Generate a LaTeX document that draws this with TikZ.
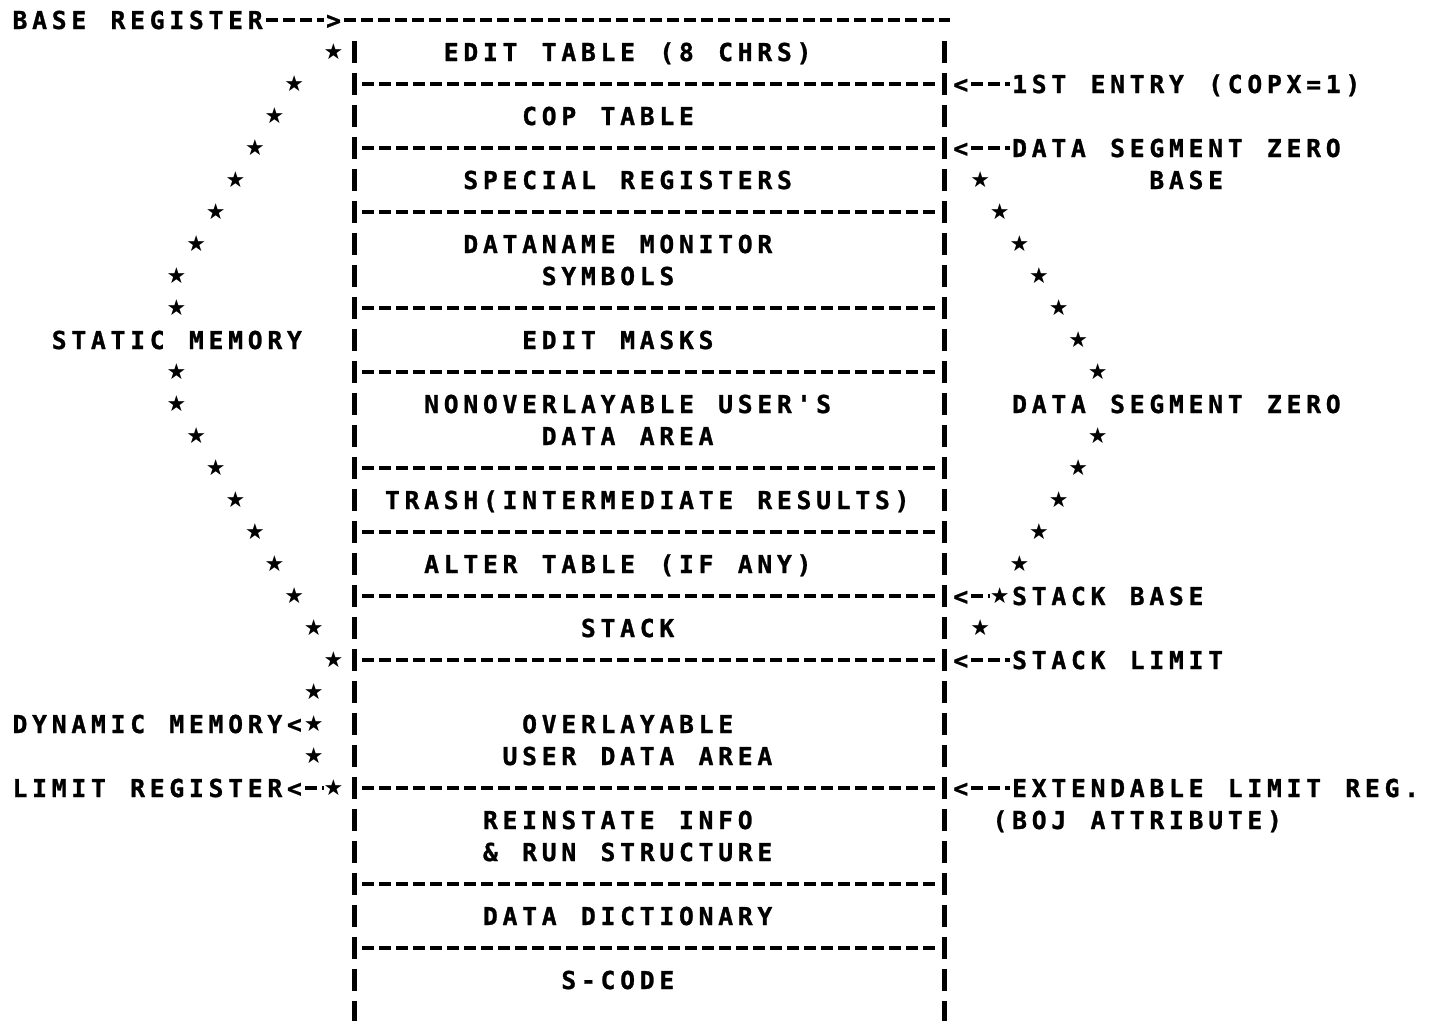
\documentclass[tikz,border=0pt]{standalone}
\usepackage{fontspec}
\newfontfamily\gridfont{DejaVu Sans Mono}[LetterSpace=19.2,FakeBold=1]
\newfontfamily\starfont{DejaVu Sans}
\tikzset{
  txt/.style={anchor=base west, inner sep=0pt, font=\gridfont\bfseries\fontsize{24.7}{26}\selectfont},
  st/.style={inner sep=0pt, font=\starfont\fontsize{22}{22}\selectfont},
  sep/.style={line width=4.6pt, dash pattern=on 12pt off 5pt},
  bar/.style={line width=5pt, dash pattern=on 22pt off 10pt},
}
\newcommand\putword[3]{\node[txt] (w-#1-#2) at ({10+(#2)*19.6+2.37},{20+32*(#1)+9}) {#3};}
\ExplSyntaxOn
\int_new:N \l_grid_col_int
\NewDocumentCommand\T{mmm}{
  \int_set:Nn \l_grid_col_int {#2}
  \seq_set_split:Nnn \l_tmpa_seq {~} {#3}
  \seq_map_inline:Nn \l_tmpa_seq {
    \tl_if_blank:nF {##1} {
      \use:x { \exp_not:N \putword {#1} {\int_use:N \l_grid_col_int} {\exp_not:n {##1}} }
    }
    \int_add:Nn \l_grid_col_int { \tl_count:n {##1} + 1 }
  }
}
\ExplSyntaxOff
\newcommand\St[2]{\node[st] (s-#1-#2) at ({10+(#2+0.5)*19.6},{20+32*(#1)}) {★};}
\newcommand\Dh[3]{\draw[sep] ({10+(#2)*19.6+1},{20+32*(#1)}) -- ({10+(#3)*19.6},{20+32*(#1)});}
\newcommand\Sep[1]{\draw[sep] (362,{20+32*(#1)}) -- (937,{20+32*(#1)});}
\begin{document}
\begin{tikzpicture}[x=1pt,y=-1pt]
\fill[white] (0,0) rectangle (1442,1020);
\useasboundingbox (0,0) rectangle (1442,1020);
% vertical bars
\draw[bar] (354,41) -- (354,1024);
\draw[bar] (944,41) -- (944,1024);
% row 0
\T{0}{0}{BASE REGISTER}
\Dh{0}{13}{16}
\T{0}{16}{>}
\draw[sep] (344,20) -- (950,20);
% separators
\Sep{2}\Sep{4}\Sep{6}\Sep{9}\Sep{11}\Sep{14}\Sep{16}\Sep{18}\Sep{20}\Sep{24}\Sep{27}\Sep{29}
% centre texts
\T{1}{22}{EDIT TABLE (8 CHRS)}
\T{3}{26}{COP TABLE}
\T{5}{23}{SPECIAL REGISTERS}
\T{7}{23}{DATANAME MONITOR}
\T{8}{27}{SYMBOLS}
\T{10}{26}{EDIT MASKS}
\T{12}{21}{NONOVERLAYABLE USER'S}
\T{13}{27}{DATA AREA}
\T{15}{19}{TRASH(INTERMEDIATE RESULTS)}
\T{17}{21}{ALTER TABLE (IF ANY)}
\T{19}{29}{STACK}
\T{22}{26}{OVERLAYABLE}
\T{23}{25}{USER DATA AREA}
\T{25}{24}{REINSTATE INFO}
\T{26}{24}{\& RUN STRUCTURE}
\T{28}{24}{DATA DICTIONARY}
\T{30}{28}{S-CODE}
% left side
\St{1}{16}\St{2}{14}\St{3}{13}\St{4}{12}\St{5}{11}\St{6}{10}\St{7}{9}\St{8}{8}\St{9}{8}
\T{10}{2}{STATIC MEMORY}
\St{11}{8}\St{12}{8}\St{13}{9}\St{14}{10}\St{15}{11}\St{16}{12}\St{17}{13}\St{18}{14}
\St{19}{15}\St{20}{16}\St{21}{15}
\T{22}{0}{DYNAMIC MEMORY<}
\St{22}{15}
\St{23}{15}
\T{24}{0}{LIMIT REGISTER<}
\Dh{24}{15}{16}
\St{24}{16}
% right side
\T{2}{48}{<}\Dh{2}{49}{51}\T{2}{51}{1ST ENTRY (COPX=1)}
\T{4}{48}{<}\Dh{4}{49}{51}\T{4}{51}{DATA SEGMENT ZERO}
\St{5}{49}\T{5}{58}{BASE}
\St{6}{50}\St{7}{51}\St{8}{52}\St{9}{53}\St{10}{54}\St{11}{55}
\T{12}{51}{DATA SEGMENT ZERO}
\St{13}{55}\St{14}{54}\St{15}{53}\St{16}{52}\St{17}{51}
\T{18}{48}{<}\Dh{18}{49}{50}\St{18}{50}\T{18}{51}{STACK BASE}
\St{19}{49}
\T{20}{48}{<}\Dh{20}{49}{51}\T{20}{51}{STACK LIMIT}
\T{24}{48}{<}\Dh{24}{49}{51}\T{24}{51}{EXTENDABLE LIMIT REG.}
\T{25}{50}{(BOJ ATTRIBUTE)}
\end{tikzpicture}
\end{document}
